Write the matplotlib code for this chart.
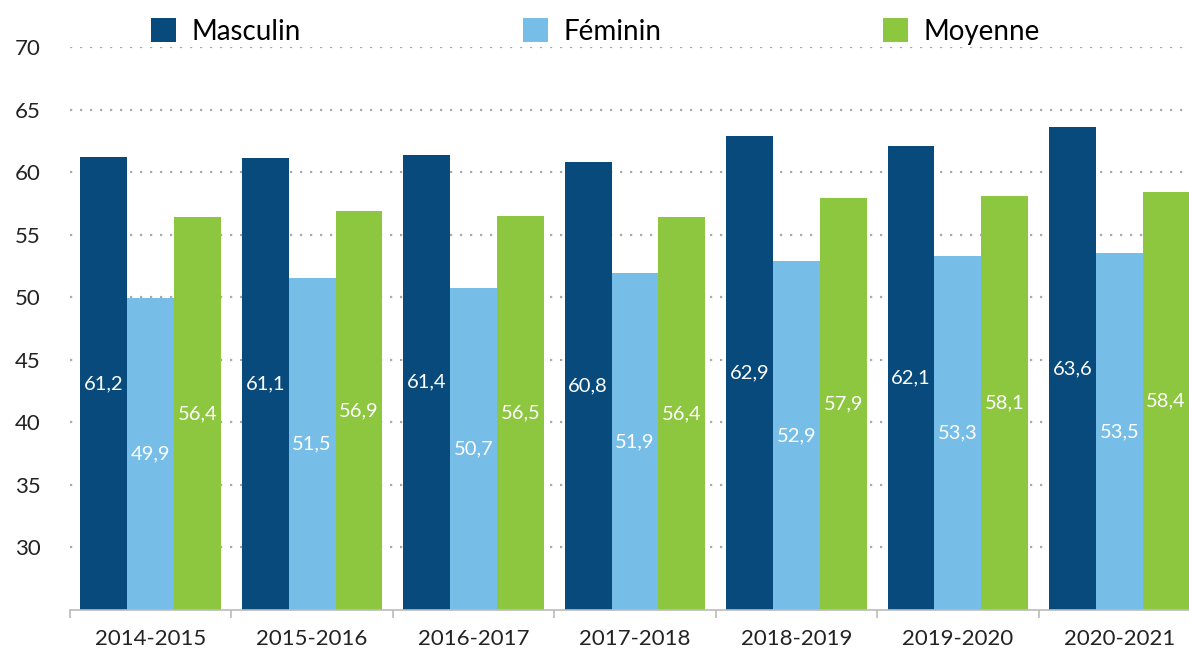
import numpy as np
import matplotlib.pyplot as plt
from matplotlib.patches import Patch

plt.rcParams['font.family'] = ['Lato', 'DejaVu Sans']

years = ["2014-2015", "2015-2016", "2016-2017", "2017-2018",
         "2018-2019", "2019-2020", "2020-2021"]
masculin = [61.2, 61.1, 61.4, 60.8, 62.9, 62.1, 63.6]
feminin = [49.9, 51.5, 50.7, 51.9, 52.9, 53.3, 53.5]
moyenne = [56.4, 56.9, 56.5, 56.4, 57.9, 58.1, 58.4]

series = [("Masculin", masculin, "#074a7b"),
          ("Féminin", feminin, "#76bde8"),
          ("Moyenne", moyenne, "#8dc63f")]

base = 25
fig = plt.figure(figsize=(11.89, 6.52), dpi=100)
ax = fig.add_axes([70/1189, 1-610/652, (1200-70)/1189, (610-47)/652])

x = np.arange(len(years))
w = 0.29
for k, (name, vals, col) in enumerate(series):
    pos = x + (k-1)*w
    heights = [v - base for v in vals]
    ax.bar(pos, heights, w, bottom=base, color=col, zorder=2)
    for p, v in zip(pos, vals):
        ax.text(p, (base+v)/2, f"{v:.1f}".replace('.', ','), ha='center', va='center',
                color='white', fontsize=14.5, zorder=3)

ax.set_xlim(-0.5, len(years)-0.5)
ax.set_ylim(base, 70)
ax.set_yticks(range(30, 71, 5))
ax.yaxis.grid(True, linestyle=(0, (1, 3.5)), color='#aaaaaa', linewidth=1.6, zorder=0)
ax.tick_params(axis='y', length=0, labelsize=16, pad=21, labelcolor='#222222')
for s in ['top', 'right', 'left']:
    ax.spines[s].set_visible(False)
ax.spines['bottom'].set_color('#bbbbbb')
ax.spines['bottom'].set_linewidth(1.2)

ax.set_xticks(x)
ax.set_xticklabels(years, fontsize=16, color='#222222')
ax.tick_params(axis='x', length=0, pad=14)
ax.set_xticks(np.arange(-0.5, len(years)), minor=True)
ax.tick_params(axis='x', which='minor', length=6, color='#bbbbbb', width=1.2)

handles = [Patch(facecolor=c, label=n) for n, _, c in series]
fig.legend(handles=handles, loc='upper left', bbox_to_anchor=(126/1189, 1.01), ncol=3,
           frameon=False, fontsize=20, handlelength=0.9, handleheight=0.9,
           handletextpad=0.55, columnspacing=8.0)

fig.savefig("out.png", dpi=100)
